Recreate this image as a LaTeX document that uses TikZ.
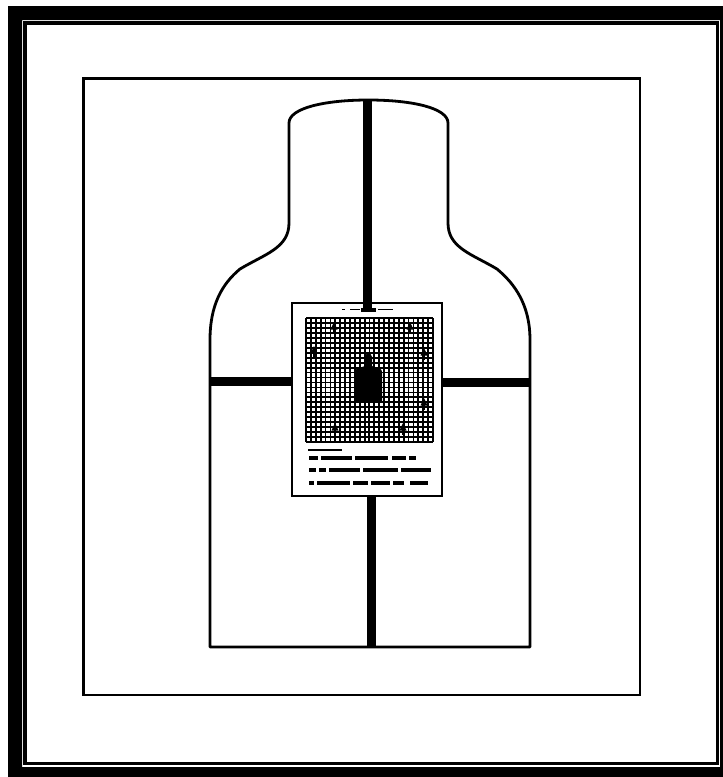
\documentclass[tikz,border=0pt]{standalone}
\begin{document}
\begin{tikzpicture}[x=1pt,y=-1pt,
  outline/.style={draw=black,line width=2.8pt,line join=round},
  gridline/.style={draw=black,line width=1.8pt},
  blob/.style={draw=black,line width=4pt},
]
\useasboundingbox (0,0) rectangle (723,777);
% outer frame
\fill[black,even odd rule] (8,6) rectangle (723,777) (22,20) rectangle (720,767);
\draw[line width=3.6pt] (25,23) rectangle (717.5,763.5);
% inner rectangle
\draw[line width=2.5pt] (83.5,78.5) rectangle (640,695);
% silhouette
\draw[outline] (210,647) -- (210,340) .. controls (210,305) and (222,284) .. (240,269)
  .. controls (265,254) and (289,248) .. (289,223) -- (289,123)
  .. controls (289,108) and (325,100) .. (368.5,100)
  .. controls (412,100) and (448,108) .. (448,123) -- (448,223)
  .. controls (448,248) and (472,254) .. (497,269)
  .. controls (515,284) and (530,305) .. (530,340) -- (530,647) -- cycle;
% bars
\fill (363,100) rectangle (372,303);
\fill (367,496) rectangle (376,647);
\fill (210,377) rectangle (292,386);
\fill (442,378) rectangle (530,387);
% target sheet
\draw[fill=white,line width=1.5pt] (292,303) rectangle (442,496);
% header
\draw[line width=1.4pt] (342,309.5) -- (345,309.5) (350,309.5) -- (360,309.5) (378,309.5) -- (393,309.5);
\fill (363,303) rectangle (372,311);
\fill (361,308) rectangle (376,312);
% grid
\foreach \i in {0,...,26} \draw[gridline] ({306+\i*127/26},318) -- ({306+\i*127/26},442);
\foreach \j in {0,...,25} \draw[gridline] (306,{318+\j*124/25}) -- (433,{318+\j*124/25});
% central silhouette
\fill (355,402) -- (355,372) .. controls (355,369) and (358,368) .. (362,367) -- (365,366) -- (365,357)
  .. controls (366,352) and (371,352) .. (372,357) -- (372,366) -- (375,367)
  .. controls (379,368) and (382,369) .. (382,372) -- (382,402) -- cycle;
\draw[line width=2pt] (368.5,402) -- (368.5,442);
% markers
\foreach \mx/\my in {334/327,410/327,314/351,424/353,424/403,335/428,403/428}{
  \fill ({\mx-3.5},{\my+2.5}) -- (\mx,{\my-5}) -- ({\mx+3.5},{\my+2.5}) -- cycle;
  \draw[line width=2.6pt] (\mx,\my) -- (\mx,{\my+7});
}
% printed text lines (illegible)
\draw[line width=1.2pt] (308,450) -- (342,450);
\draw[line width=3.5pt] (309,458) -- (318,458) (321,458) -- (352,458) (355,458) -- (388,458) (392,458) -- (406,458) (409,458) -- (416,458);
\draw[line width=4.5pt] (309,470) -- (316,470) (319,470) -- (326,470) (329,470) -- (360,470) (363,470) -- (398,470) (401,470) -- (431,470);
\draw[line width=4.5pt] (309,483) -- (314,483) (317,483) -- (350,483) (353,483) -- (368,483) (371,483) -- (390,483) (393,483) -- (404,483) (410,483) -- (428,483);
\end{tikzpicture}
\end{document}
